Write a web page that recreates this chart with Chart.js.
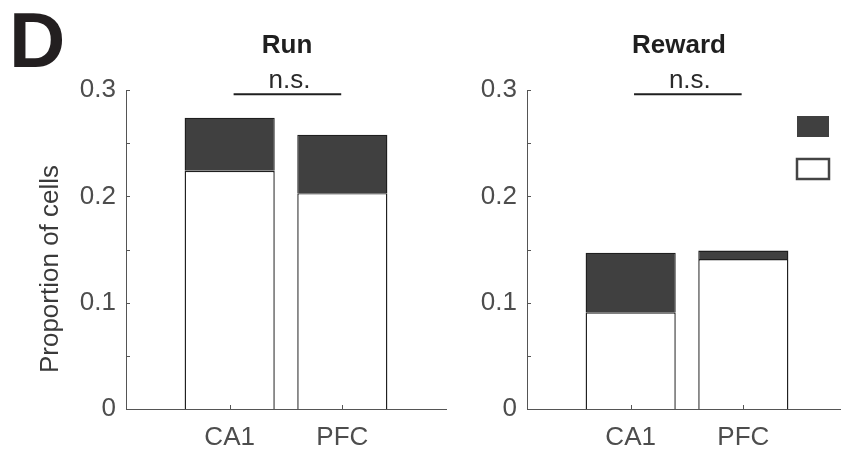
<!DOCTYPE html>
<html>
<head>
<meta charset="utf-8">
<script src="https://cdn.jsdelivr.net/npm/chart.js@4"></script>
<style>
  html, body { margin: 0; padding: 0; background: #fff; overflow: hidden; }
  #wrap { position: relative; width: 860px; height: 451px; }
  #wrap canvas { position: absolute; left: 0; top: 0; }
</style>
</head>
<body>
<div id="wrap">
  <canvas id="runChart" width="860" height="451"></canvas>
  <canvas id="rewardChart" width="860" height="451"></canvas>
</div>
<script>
const categories = ['CA1', 'PFC'];
// lower (white) and upper (dark) segments of each stacked bar
const runLower = [0.224, 0.203];
const runUpper = [0.050, 0.055];
const rewardLower = [0.091, 0.141];
const rewardUpper = [0.056, 0.008];
const yTicks = [0, 0.1, 0.2, 0.3];
const minorTicks = [0, 0.05, 0.1, 0.15, 0.2, 0.25, 0.3];

const axisColor = '#555';
const labelColor = '#4d4d4d';
const ink = '#1f1f1f';
const darkFill = '#404040';

Chart.defaults.font.family = '"Liberation Sans", Arial, sans-serif';
Chart.defaults.font.size = 26;
Chart.defaults.color = labelColor;

// axis ticks point inward, plus title, significance bar and extras
const panelDecor = {
  id: 'panelDecor',
  afterDatasetsDraw(chart, args, opts) {
    const ctx = chart.ctx;
    const xs = chart.scales.x;
    const ys = chart.scales.y;
    const area = chart.chartArea;
    ctx.save();
    ctx.strokeStyle = axisColor;
    ctx.lineWidth = 1;
    ctx.beginPath();
    minorTicks.forEach(v => {
      const y = Math.round(ys.getPixelForValue(v)) + 0.5;
      ctx.moveTo(area.left, y);
      ctx.lineTo(area.left + 4, y);
    });
    categories.forEach((c, i) => {
      const x = Math.round(xs.getPixelForValue(i + 1)) + 0.5;
      ctx.moveTo(x, area.bottom);
      ctx.lineTo(x, area.bottom - 4);
    });
    ctx.stroke();

    // panel title
    ctx.fillStyle = ink;
    ctx.font = 'bold 26px "Liberation Sans", Arial, sans-serif';
    ctx.textAlign = 'center';
    ctx.textBaseline = 'alphabetic';
    ctx.fillText(opts.title, opts.titleX, 53);

    // n.s. bar between the two groups
    const x1 = xs.getPixelForValue(opts.sigFrom);
    const x2 = xs.getPixelForValue(opts.sigTo);
    const yb = ys.getPixelForValue(opts.sigAt);
    ctx.strokeStyle = ink;
    ctx.lineWidth = 2.2;
    ctx.beginPath();
    ctx.moveTo(x1, yb);
    ctx.lineTo(x2, yb);
    ctx.stroke();
    ctx.fillStyle = '#2a2a2a';
    ctx.font = '26px "Liberation Sans", Arial, sans-serif';
    ctx.fillText('n.s.', (x1 + x2) / 2 + 2, yb - 6);

    if (opts.panelLetter) {
      ctx.fillStyle = '#231f20';
      ctx.font = 'bold 78px "Liberation Sans", Arial, sans-serif';
      ctx.textAlign = 'left';
      ctx.fillText('D', 9, 67);
    }
    if (opts.yLabel) {
      ctx.save();
      ctx.translate(58, 269);
      ctx.rotate(-Math.PI / 2);
      ctx.fillStyle = '#3a3a3a';
      ctx.font = '26px "Liberation Sans", Arial, sans-serif';
      ctx.textAlign = 'center';
      ctx.fillText(opts.yLabel, 0, 0);
      ctx.restore();
    }
    if (opts.legend) {
      const ds = chart.data.datasets;
      // upper segment first, lower segment below
      ctx.fillStyle = ds[1].backgroundColor;
      ctx.fillRect(797, 116, 32, 21);
      ctx.fillStyle = ds[0].backgroundColor;
      ctx.fillRect(797, 159, 32, 20);
      ctx.strokeStyle = '#444';
      ctx.lineWidth = 2.5;
      ctx.strokeRect(797, 159, 32, 20);
    }
    ctx.restore();
  }
};

function makePanel(canvasId, lower, upper, leftEdge, decor) {
  const toPoints = arr => arr.map((v, i) => ({ x: i + 1, y: v }));
  const barStyle = {
    borderColor: ink,
    borderWidth: 1.4,
    borderSkipped: 'start',
    categoryPercentage: 1,
    barPercentage: 0.8
  };
  return new Chart(document.getElementById(canvasId), {
    type: 'bar',
    data: {
      datasets: [
        Object.assign({ data: toPoints(lower), backgroundColor: '#ffffff' }, barStyle),
        Object.assign({ data: toPoints(upper), backgroundColor: darkFill }, barStyle)
      ]
    },
    options: {
      responsive: false,
      animation: false,
      events: [],
      layout: { padding: { left: 0, top: 90, right: 860 - (leftEdge + 320), bottom: 0 } },
      plugins: {
        legend: { display: false },
        tooltip: { enabled: false },
        panelDecor: decor
      },
      scales: {
        x: {
          type: 'linear',
          stacked: true,
          offset: false,
          min: 0.08,
          max: 2.92,
          afterBuildTicks: s => { s.ticks = categories.map((c, i) => ({ value: i + 1 })); },
          afterFit: s => { s.height = 42; },
          grid: { display: false, drawTicks: false },
          border: { display: true, color: axisColor, width: 1 },
          ticks: {
            padding: 13,
            maxRotation: 0,
            autoSkip: false,
            color: labelColor,
            callback: v => categories[v - 1]
          }
        },
        y: {
          stacked: true,
          min: 0,
          max: 0.3,
          afterBuildTicks: s => { s.ticks = yTicks.map(v => ({ value: v })); },
          afterFit: s => { s.width = leftEdge; },
          grid: { display: false, drawTicks: false },
          border: { display: true, color: axisColor, width: 1 },
          ticks: {
            padding: 10,
            color: labelColor,
            callback: v => String(Math.round(v * 10) / 10)
          }
        }
      }
    },
    plugins: [panelDecor]
  });
}

makePanel('runChart', runLower, runUpper, 126, {
  title: 'Run', titleX: 287, sigFrom: 1.035, sigTo: 1.99, sigAt: 0.296,
  panelLetter: true, yLabel: 'Proportion of cells'
});
makePanel('rewardChart', rewardLower, rewardUpper, 527, {
  title: 'Reward', titleX: 679, sigFrom: 1.03, sigTo: 1.985, sigAt: 0.296,
  legend: true
});
</script>
</body>
</html>
